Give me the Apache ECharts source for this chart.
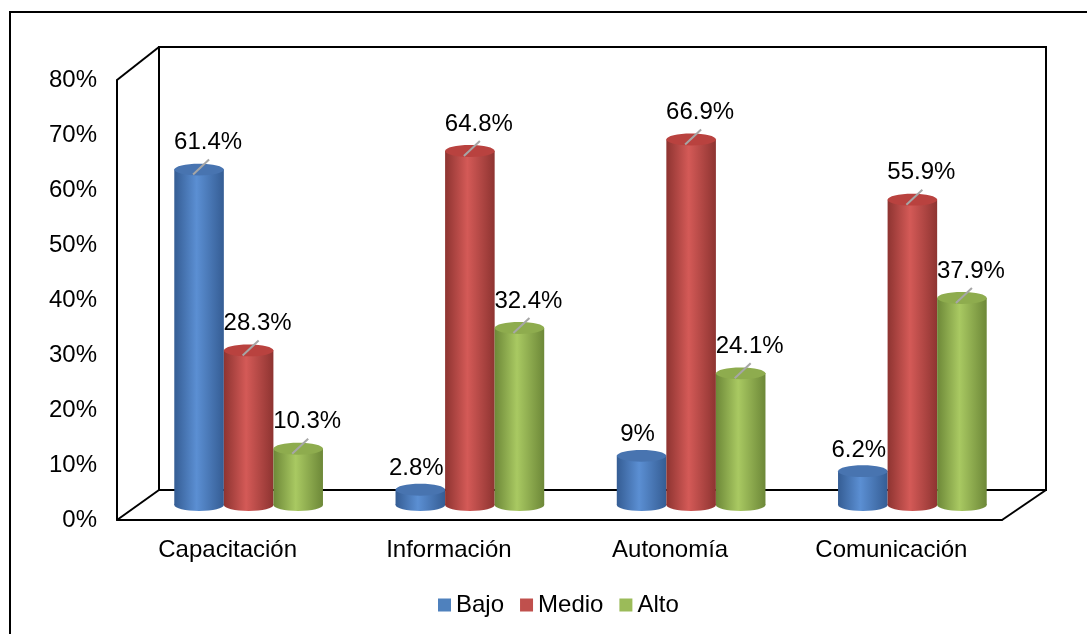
<!DOCTYPE html>
<html>
<head>
<meta charset="utf-8">
<script src="https://cdn.jsdelivr.net/npm/echarts@6/dist/echarts.min.js"></script>
<style>
  html, body { margin: 0; background: #fff; }
  #chart { width: 1087px; height: 634px; }
</style>
</head>
<body>
<div id="chart"></div>
<script>
const categories = ['Capacitación', 'Información', 'Autonomía', 'Comunicación']
const seriesNames = ['Bajo', 'Medio', 'Alto']
const bajo = [61.4, 2.8, 9, 6.2]
const medio = [28.3, 64.8, 66.9, 55.9]
const alto = [10.3, 32.4, 24.1, 37.9]

const FONT = '"Liberation Sans", Arial, sans-serif'

// colores estilo Excel para los cilindros
const palettes = [
  { base: '#4f81bd', dark: '#355d94', light: '#5b8fd3', top: '#4874b0' },
  { base: '#c0504d', dark: '#8e3431', light: '#d45a57', top: '#b9423f' },
  { base: '#9bbb59', dark: '#6d8838', light: '#a9c962', top: '#8eac4e' }
]

function cylinder(slot, pal) {
  return function (params, api) {
    const v = api.value(1)
    const top = api.coord([api.value(0), v])
    const base = api.coord([api.value(0), 0])
    const band = api.size([1, 0])[0]
    const w = band * 0.224
    const cx = top[0] + slot * w
    const rx = w / 2
    const ry = w * 0.12
    const grad = new echarts.graphic.LinearGradient(0, 0, 1, 0, [
      { offset: 0, color: pal.dark },
      { offset: 0.45, color: pal.light },
      { offset: 1, color: pal.dark }
    ])
    const children = [
      { type: 'ellipse', shape: { cx: cx, cy: base[1], rx: rx, ry: ry }, style: { fill: grad } },
      { type: 'rect', shape: { x: cx - rx, y: top[1], width: w, height: base[1] - top[1] }, style: { fill: grad } },
      { type: 'ellipse', shape: { cx: cx, cy: top[1], rx: rx, ry: ry }, style: { fill: pal.top } }
    ]
    const small = v < 10
    if (!small) {
      children.push({
        type: 'line',
        shape: { x1: cx - 6, y1: top[1] + 5, x2: cx + 10, y2: top[1] - 10 },
        style: { stroke: '#a6a6a6', lineWidth: 2 }
      })
    }
    children.push({
      type: 'text',
      style: {
        text: v + '%',
        x: cx + (small ? -4 : 9),
        y: top[1] + (small ? -21 : -27),
        align: 'center',
        verticalAlign: 'middle',
        font: '24px ' + FONT,
        fill: '#000'
      }
    })
    return { type: 'group', children: children }
  }
}

const values = [bajo, medio, alto]
const chart = echarts.init(document.getElementById('chart'))

chart.setOption({
  backgroundColor: '#fff',
  animation: false,
  textStyle: { fontFamily: FONT },
  legend: {
    data: seriesNames,
    left: 438,
    top: 593,
    padding: 0,
    icon: 'rect',
    itemWidth: 13,
    itemHeight: 13,
    itemGap: 16,
    textStyle: { fontSize: 24, color: '#000', fontFamily: FONT }
  },
  grid: [
    { left: 117, right: 85, top: 80, bottom: 114 },
    { left: 138, right: 64, top: 68, bottom: 129 }
  ],
  xAxis: [{
    gridIndex: 0,
    type: 'category',
    data: categories,
    axisLine: { lineStyle: { color: '#000', width: 2 } },
    axisTick: { show: false },
    axisLabel: { fontSize: 24, color: '#000', margin: 18, fontFamily: FONT }
  }, {
    gridIndex: 1,
    type: 'category',
    data: categories,
    show: false
  }],
  yAxis: [{
    gridIndex: 0,
    type: 'value',
    min: 0,
    max: 80,
    interval: 10,
    axisLine: { show: true, lineStyle: { color: '#000', width: 2 } },
    axisTick: { show: false },
    splitLine: { show: false },
    axisLabel: { formatter: '{value}%', fontSize: 24, color: '#000', margin: 20, fontFamily: FONT }
  }, {
    gridIndex: 1,
    type: 'value',
    min: 0,
    max: 80,
    show: false
  }],
  graphic: [
    { type: 'polyline', silent: true, z: 0, shape: { points: [[10, 634], [10, 12], [1087, 12]] }, style: { stroke: '#000', lineWidth: 2, fill: null } },
    { type: 'polyline', silent: true, z: 0, shape: { points: [[159, 490], [159, 47], [1046, 47], [1046, 490], [159, 490]] }, style: { stroke: '#000', lineWidth: 2, fill: null } },
    { type: 'line', silent: true, z: 0, shape: { x1: 117, y1: 80, x2: 159, y2: 47 }, style: { stroke: '#000', lineWidth: 2 } },
    { type: 'line', silent: true, z: 0, shape: { x1: 117, y1: 520, x2: 159, y2: 490 }, style: { stroke: '#000', lineWidth: 2 } },
    { type: 'line', silent: true, z: 0, shape: { x1: 1002, y1: 520, x2: 1046, y2: 490 }, style: { stroke: '#000', lineWidth: 2 } }
  ],
  series: seriesNames.map(function (name, s) {
    return {
      name: name,
      type: 'custom',
      xAxisIndex: 1,
      yAxisIndex: 1,
      z: 5,
      itemStyle: { color: palettes[s].base },
      renderItem: cylinder(s - 1, palettes[s]),
      encode: { x: 0, y: 1 },
      data: values[s].map(function (v, i) { return [i, v] })
    }
  })
})
</script>
</body>
</html>
